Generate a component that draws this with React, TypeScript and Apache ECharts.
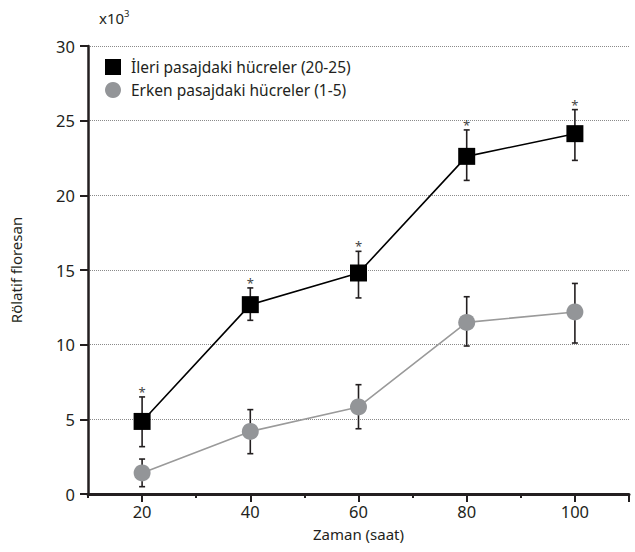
import React, { useEffect, useRef } from 'react';
import * as echarts from 'echarts';

const hours = [20, 40, 60, 80, 100];
const lateMean = [4.86, 12.68, 14.8, 22.61, 24.13];
const lateLow = [3.17, 11.63, 13.13, 21.0, 22.34];
const lateHigh = [6.5, 13.8, 16.25, 24.38, 25.74];
const earlyMean = [1.41, 4.19, 5.83, 11.49, 12.19];
const earlyLow = [0.49, 2.7, 4.37, 9.91, 10.11];
const earlyHigh = [2.34, 5.65, 7.32, 13.21, 14.1];
const significant = [1, 1, 1, 1, 1];
const xCategories = ['10', '20', '30', '40', '50', '60', '70', '80', '90', '100', '110'];
const lateName = 'İleri pasajdaki hücreler (20-25)';
const earlyName = 'Erken pasajdaki hücreler (1-5)';

const FONT = 'Noto Sans';
const INK = '#231f20';

export default function App() {
  const ref = useRef<HTMLDivElement>(null);
  useEffect(() => {
    document.body.style.margin = '0';
    const chart = echarts.init(ref.current!, null, { renderer: 'svg' });
    const errRender = (params: any, api: any) => {
      const x = api.value(0);
      const lo = api.coord([x, api.value(1)]);
      const hi = api.coord([x, api.value(2)]);
      const star = api.value(3);
      const hw = 3;
      const st = { stroke: INK, lineWidth: 1.6 };
      const children: any[] = [
        { type: 'line', shape: { x1: lo[0], y1: lo[1], x2: hi[0], y2: hi[1] }, style: st },
        { type: 'line', shape: { x1: lo[0] - hw, y1: lo[1], x2: lo[0] + hw, y2: lo[1] }, style: st },
        { type: 'line', shape: { x1: hi[0] - hw, y1: hi[1], x2: hi[0] + hw, y2: hi[1] }, style: st },
      ];
      if (star) {
        children.push({
          type: 'text',
          x: hi[0],
          y: hi[1] - 5,
          style: { text: '*', align: 'center', verticalAlign: 'middle', fontSize: 13, fontFamily: FONT, fill: '#444' },
        });
      }
      return { type: 'group', children };
    };
    chart.setOption({
      animation: false,
      textStyle: { fontFamily: FONT, color: INK },
      grid: { left: 88, right: 6, top: 46, bottom: 58, containLabel: false },
      legend: {
        orient: 'vertical',
        left: 105,
        top: 59,
        padding: 0,
        itemWidth: 16,
        itemHeight: 16,
        itemGap: 7,
        textStyle: { fontSize: 15.5, color: INK, fontFamily: FONT, padding: [0, 0, 0, 5] },
        data: [
          { name: lateName, icon: 'rect', itemStyle: { color: '#000' } },
          { name: earlyName, icon: 'circle', itemStyle: { color: '#939598' } },
        ],
      },
      graphic: [
        { type: 'text', left: 99, top: 10, style: { text: 'x10', fontSize: 15, fontFamily: FONT, fill: INK } },
        { type: 'text', left: 124, top: 8, style: { text: '3', fontSize: 9.5, fontFamily: FONT, fill: INK } },
      ],
      xAxis: [
        {
          type: 'value',
          min: 10,
          max: 110,
          interval: 10,
          name: 'Zaman (saat)',
          nameLocation: 'middle',
          nameGap: 32,
          nameTextStyle: { fontSize: 15, color: INK, fontFamily: FONT },
          axisLine: { show: true, lineStyle: { color: INK, width: 3 } },
          axisTick: { show: true, length: 4, lineStyle: { color: INK, width: 2 } },
          axisLabel: { show: false },
          splitLine: { show: false },
        },
        {
          type: 'category',
          data: xCategories,
          boundaryGap: false,
          position: 'bottom',
          axisLine: { show: false },
          axisTick: {
            show: true,
            length: 8,
            interval: (i: number) => i % 2 === 1 || i === xCategories.length - 1,
            lineStyle: { color: INK, width: 2 },
          },
          axisLabel: {
            show: true,
            interval: (i: number) => i % 2 === 1,
            fontSize: 16.5,
            color: INK,
            fontFamily: FONT,
            margin: 9,
          },
          splitLine: { show: false },
        },
      ],
      yAxis: {
        type: 'value',
        min: 0,
        max: 30,
        interval: 5,
        name: 'Rölatif floresan',
        nameLocation: 'middle',
        nameGap: 65,
        nameTextStyle: { fontSize: 15, color: INK, fontFamily: FONT },
        axisLine: { show: true, lineStyle: { color: INK, width: 2.5 } },
        axisTick: { show: true, length: 8, lineStyle: { color: INK, width: 2 } },
        axisLabel: { fontSize: 16.5, color: INK, fontFamily: FONT, margin: 13 },
        splitLine: { show: true, lineStyle: { color: '#8a8a8a', width: 1, type: [1, 1] } },
      },
      series: [
        {
          type: 'custom',
          name: 'lateErr',
          xAxisIndex: 0,
          renderItem: errRender,
          encode: { x: 0, y: [1, 2] },
          data: hours.map((h, i) => [h, lateLow[i], lateHigh[i], significant[i]]),
          z: 1,
        },
        {
          type: 'custom',
          name: 'earlyErr',
          xAxisIndex: 0,
          renderItem: errRender,
          encode: { x: 0, y: [1, 2] },
          data: hours.map((h, i) => [h, earlyLow[i], earlyHigh[i], 0]),
          z: 1,
        },
        {
          type: 'line',
          name: earlyName,
          xAxisIndex: 0,
          data: hours.map((h, i) => [h, earlyMean[i]]),
          symbol: 'circle',
          symbolSize: 17,
          itemStyle: { color: '#939598' },
          lineStyle: { color: '#9a9a9a', width: 1.6 },
          z: 3,
        },
        {
          type: 'line',
          name: lateName,
          xAxisIndex: 0,
          data: hours.map((h, i) => [h, lateMean[i]]),
          symbol: 'rect',
          symbolSize: 17,
          itemStyle: { color: '#000' },
          lineStyle: { color: '#000', width: 1.6 },
          z: 4,
        },
      ],
    });
    return () => chart.dispose();
  }, []);
  return <div ref={ref} style={{ width: 635, height: 552 }} />;
}
